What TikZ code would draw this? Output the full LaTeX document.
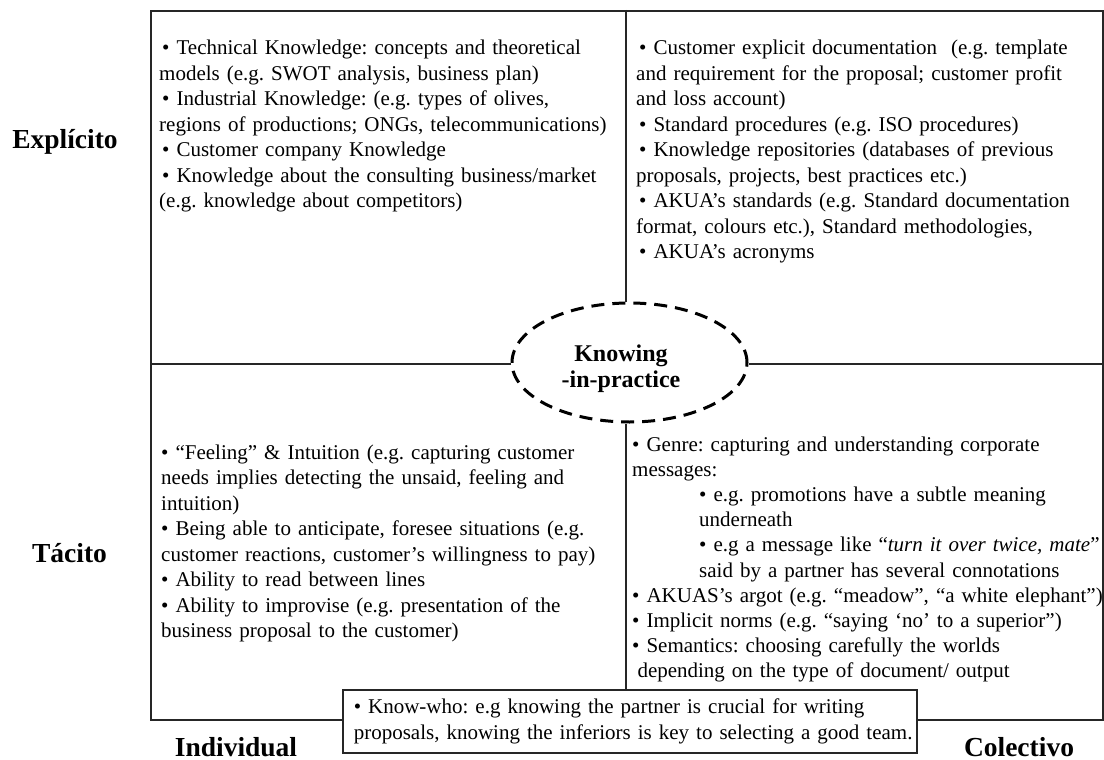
\documentclass[tikz,border=0pt]{standalone}
\usepackage{fontspec}
\setmainfont{Liberation Serif}
\usetikzlibrary{shapes.geometric}
\frenchspacing
\begin{document}
\begin{tikzpicture}[x=1pt,y=-1pt,
  frameline/.style={line width=1.6pt, draw=black!85},
  celltext/.style={anchor=base west, inner sep=0pt, text width=520pt, align=left,
    font=\frenchspacing\fontsize{21}{25.5}\selectfont},
  axislabel/.style={anchor=base, inner sep=0pt, font=\fontsize{27.5}{30}\selectfont\bfseries},
]
\useasboundingbox (0,0) rectangle (1104,760);

% frame
\node[frameline, draw, minimum width=952pt, minimum height=709pt, inner sep=0pt,
  anchor=north west] (frame) at (150,10) {};
\coordinate (vtop) at (626,10);
\coordinate (hleft) at (150,364);
\coordinate (hright) at (1102,364);

% central ellipse
\node[ellipse, draw=black, line width=3pt, dash pattern=on 13pt off 8pt, fill=white,
  minimum width=235pt, minimum height=119pt, inner sep=0pt] (kip) at (629.5,362.5) {};
\node[anchor=base, inner sep=0pt, text width=200pt, align=center,
  font=\fontsize{24}{26}\selectfont\bfseries] (kiptext) at (621,361) {Knowing\\-in-practice};

% know-who box
\node[frameline, draw, fill=white, anchor=north west, text width=552pt, inner xsep=11pt,
  minimum height=63pt, align=left, font=\frenchspacing\fontsize{21}{25.5}\selectfont] (kw) at (342,689)
  {\mbox{• Know-who: e.g knowing the partner is crucial for writing}\\
   \mbox{proposals, knowing the inferiors is key to selecting a good team.}};

% axis lines
\draw[frameline] (vtop) -- (vtop |- kip.north);
\draw[frameline] (kip.south -| vtop) -- (kw.north -| vtop);
\draw[frameline] (hleft) -- (kip.west |- hleft);
\draw[frameline] (kip.east |- hright) -- (hright);

% quadrant texts
\node[celltext] (tl) at (159,55) {%
\hspace*{3pt}• Technical Knowledge: concepts and theoretical\\
models (e.g. SWOT analysis, business plan)\\
\hspace*{3pt}• Industrial Knowledge: (e.g. types of olives,\\
regions of productions; ONGs, telecommunications)\\
\hspace*{3pt}• Customer company Knowledge\\
\hspace*{3pt}• Knowledge about the consulting business/market\\
(e.g. knowledge about competitors)};

\node[celltext] (tr) at (636,55) {%
\hspace*{3pt}• Customer explicit documentation~~(e.g. template\\
and requirement for the proposal; customer profit\\
and loss account)\\
\hspace*{3pt}• Standard procedures (e.g. ISO procedures)\\
\hspace*{3pt}• Knowledge repositories (databases of previous\\
proposals, projects, best practices etc.)\\
\hspace*{3pt}• AKUA’s standards (e.g. Standard documentation\\
format, colours etc.), Standard methodologies,\\
\hspace*{3pt}• AKUA’s acronyms};

\node[celltext] (bl) at (161,459) {%
• “Feeling” \& Intuition (e.g. capturing customer\\
needs implies detecting the unsaid, feeling and\\
intuition)\\
• Being able to anticipate, foresee situations (e.g.\\
customer reactions, customer’s willingness to pay)\\
• Ability to read between lines\\
• Ability to improvise (e.g. presentation of the\\
business proposal to the customer)};

\node[celltext, font=\frenchspacing\fontsize{21}{25.2}\selectfont] (br) at (632,451) {%
• Genre: capturing and understanding corporate\\
messages:\\
\hspace*{67pt}• e.g. promotions have a subtle meaning\\
\hspace*{67pt}underneath\\
\hspace*{67pt}• e.g a message like “\textit{turn it over twice, mate}”\\
\hspace*{67pt}said by a partner has several connotations\\
• AKUAS’s argot (e.g. “meadow”, “a white elephant”)\\
• Implicit norms (e.g. “saying ‘no’ to a superior”)\\
• Semantics: choosing carefully the worlds\\
\hspace*{5.3pt}depending on the type of document/ output};

% axis labels
\node[axislabel] (explicito) at (65,148) {Explícito};
\node[axislabel] (tacito) at (69.5,562) {Tácito};
\node[axislabel] (individual) at (236,756) {Individual};
\node[axislabel] (colectivo) at (1019,756) {Colectivo};
\end{tikzpicture}
\end{document}
